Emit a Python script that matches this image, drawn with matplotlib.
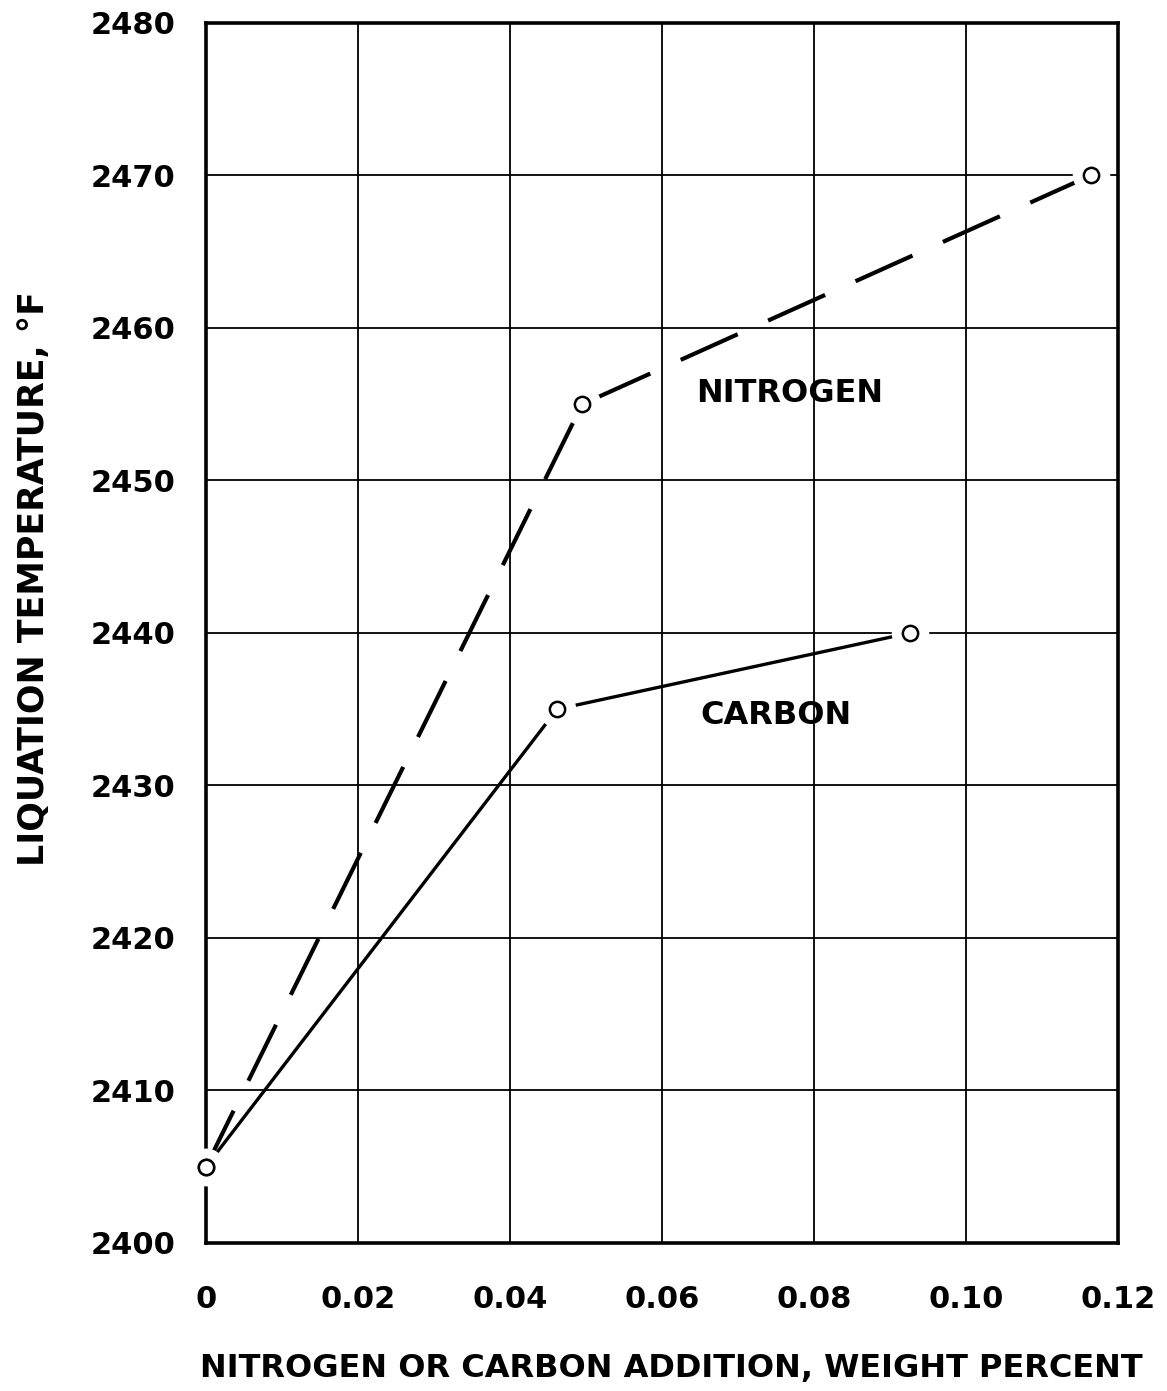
import matplotlib
matplotlib.use("Agg")
import matplotlib.pyplot as plt

nitrogen_x = [0.0, 0.0495, 0.1164]
nitrogen_y = [2405, 2455, 2470]
carbon_x = [0.0, 0.0462, 0.0926]
carbon_y = [2405, 2435, 2440]
xticks = [0, 0.02, 0.04, 0.06, 0.08, 0.10, 0.12]
xticklabels = ["0", "0.02", "0.04", "0.06", "0.08", "0.10", "0.12"]
yticks = [2400, 2410, 2420, 2430, 2440, 2450, 2460, 2470, 2480]

plt.rcParams['font.family'] = ['DejaVu Sans']
fig = plt.figure(figsize=(11.67, 13.91), dpi=100)
ax = fig.add_axes([0.1765, 0.1064, 0.958 - 0.1765, 0.9835 - 0.1064])

ax.set_xlim(0, 0.12)
ax.set_ylim(2400, 2480)
ax.set_xticks(xticks)
ax.set_xticklabels(xticklabels)
ax.set_yticks(yticks)
ax.tick_params(length=0, labelsize=22, pad=22)
for lab in ax.get_xticklabels() + ax.get_yticklabels():
    lab.set_fontweight('bold')
ax.tick_params(axis='x', pad=30)
ax.grid(True, color='black', linewidth=1.3)
for s in ax.spines.values():
    s.set_linewidth(2.6)

ax.plot(nitrogen_x, nitrogen_y, color='black', linewidth=3.0,
        dashes=(15, 8), dash_capstyle='butt', zorder=3)
ax.plot(carbon_x, carbon_y, color='black', linewidth=2.4, zorder=3)

for xs, ys in [(nitrogen_x, nitrogen_y), (carbon_x, carbon_y)]:
    ax.plot(xs, ys, linestyle='none', marker='o', markersize=26,
            markerfacecolor='white', markeredgecolor='white', zorder=4,
            clip_on=False)
    ax.plot(xs, ys, linestyle='none', marker='o', markersize=11,
            markerfacecolor='white', markeredgecolor='black',
            markeredgewidth=1.8, zorder=5, clip_on=False)

ax.text(0.0645, 2455.7, "NITROGEN", fontsize=23, fontweight='bold',
        va='center', ha='left')
ax.text(0.065, 2434.6, "CARBON", fontsize=23, fontweight='bold',
        va='center', ha='left')

ax.set_xlabel("NITROGEN OR CARBON ADDITION, WEIGHT PERCENT",
              fontsize=23, fontweight='bold', labelpad=28)
ax.set_ylabel("LIQUATION TEMPERATURE, °F", fontsize=25,
              fontweight='bold')
ax.yaxis.set_label_coords(-0.17, 0.545)
ax.xaxis.set_label_coords(0.51, -0.09)

fig.savefig("out.png", dpi=100)
